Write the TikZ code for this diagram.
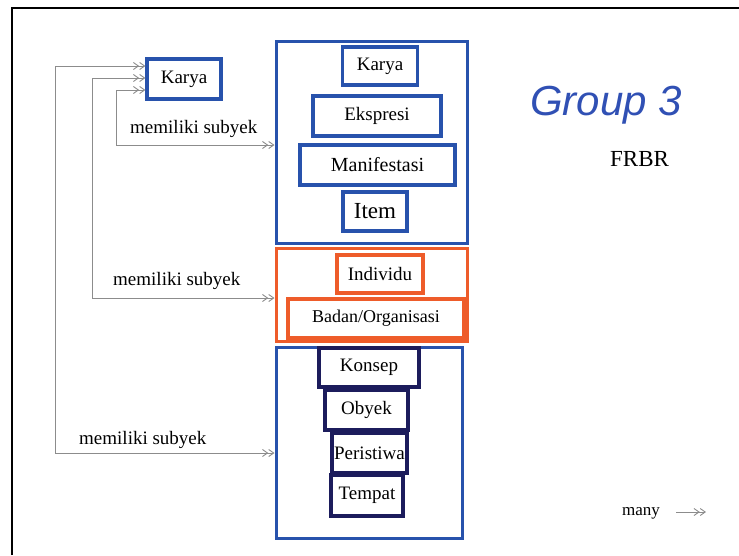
\documentclass[tikz,border=0pt]{standalone}
\usepackage{fontspec}
\setmainfont{Liberation Serif}
\newfontfamily\grpfont{Liberation Sans}
\usetikzlibrary{arrows.meta}

\definecolor{boxblue}{RGB}{40,82,172}
\definecolor{titleblue}{RGB}{48,80,180}
\definecolor{boxorange}{RGB}{238,92,42}
\definecolor{boxnavy}{RGB}{28,28,92}
\definecolor{linkgray}{RGB}{140,140,140}

\begin{document}
\begin{tikzpicture}[
    x=1pt, y=-1pt,
    >={Straight Barb[length=5pt,width=7pt]},
    entbox/.style={draw, line width=3.2pt, inner sep=1pt, font=\fontsize{19}{21}\selectfont},
    grpbox/.style={draw, line width=3pt},
    lbl/.style={anchor=base west, inner sep=0pt, font=\fontsize{19}{21}\selectfont},
    link/.style={draw=linkgray, line width=0.9pt}
]
  \useasboundingbox (0,0) rectangle (739,555);
  % slide frame
  \draw[line width=1.6pt] (12,555) -- (12,8) -- (739,8);

  % Karya (left)
  \node[entbox, draw=boxblue, minimum width=74, minimum height=40] (karya) at (184,79) {Karya};

  % Group 1
  \node[grpbox, draw=boxblue, minimum width=191, minimum height=202] (grp1) at (371.5,142) {};
  \node[entbox, draw=boxblue, minimum width=75, minimum height=38] (wrk) at (380,66) {Karya};
  \node[entbox, draw=boxblue, minimum width=128, minimum height=40] (eks) at (377,116) {Ekspresi};
  \node[entbox, draw=boxblue, minimum width=155, minimum height=40, font=\fontsize{20}{22}\selectfont] (man) at (377.5,165) {Manifestasi};
  \node[entbox, draw=boxblue, minimum width=64, minimum height=39, font=\fontsize{23}{25}\selectfont] (itm) at (375,211.5) {Item};

  % Group 2
  \node[grpbox, draw=boxorange, minimum width=191, minimum height=93] (grp2) at (371.5,294.5) {};
  \node[entbox, draw=boxorange, minimum width=86, minimum height=38] (ind) at (380,274) {Individu};
  \node[entbox, draw=boxorange, minimum width=176, minimum height=39, font=\fontsize{18}{20}\selectfont] (bdn) at (376,318.5) {Badan/Organisasi};

  % Group 3
  \node[grpbox, draw=boxblue, minimum width=186, minimum height=191] (grp3) at (369,442.5) {};
  \node[entbox, draw=boxnavy, minimum width=100, minimum height=39] (kon) at (369,367.5) {Konsep};
  \node[entbox, draw=boxnavy, minimum width=83, minimum height=40] (oby) at (366.5,410) {Obyek};
  \node[entbox, draw=boxnavy, minimum width=75, minimum height=40, inner sep=0pt] (per) at (369.5,453) {Peristiwa};
  \node[entbox, draw=boxnavy, minimum width=72, minimum height=41] (tmp) at (367,495.5) {Tempat};

  % Relations
  \coordinate (j1) at (55,453);
  \coordinate (j2) at (92,298);
  \coordinate (j3) at (116,145);
  \draw[link, <<->>] ([yshift=13pt]karya.west) -| (j1) -- (grp3.west |- j1);
  \draw[link, <<->>] ([yshift=1pt]karya.west) -| (j2) -- (grp2.west |- j2);
  \draw[link, <<->>] ([yshift=-11pt]karya.west) -| (j3) -- (grp1.west |- j3);

  \node[lbl] (sub1) at (130,133) {memiliki subyek};
  \node[lbl] (sub2) at (113,285) {memiliki subyek};
  \node[lbl] (sub3) at (79,444) {memiliki subyek};

  % Title
  \node[anchor=base west, inner sep=0pt, text=titleblue, font=\grpfont\itshape\fontsize{42}{46}\selectfont] (ttl) at (530,115) {Group 3};
  \node[anchor=base west, inner sep=0pt, font=\fontsize{23}{25}\selectfont] (frbr) at (610,166) {FRBR};

  % Legend
  \node[anchor=base west, inner sep=0pt, font=\fontsize{17}{19}\selectfont] (many) at (622,515) {many};
  \coordinate (mbeg) at (676,512);
  \coordinate (mend) at (706,512);
  \draw[link, ->>] (mbeg) -- (mend);
\end{tikzpicture}
\end{document}
